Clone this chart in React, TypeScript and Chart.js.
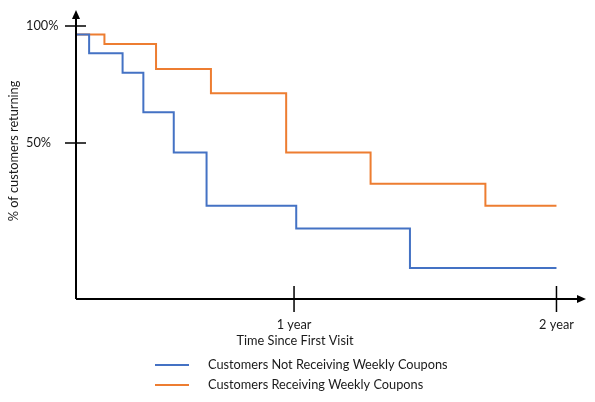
import { useEffect, useRef } from 'react';
import { Chart, registerables } from 'chart.js';
Chart.register(...registerables);

// Time in months since first visit, and % of customers returning (step values)
const blueX = [2.03, 2.63, 4.16, 5.11, 6.5, 8.0, 12.1, 17.3, 24];
const blueY = [96.3, 88.3, 80.0, 63.1, 45.9, 23.2, 13.4, -3.5, -3.5];
const orangeX = [2.03, 3.33, 5.69, 8.2, 11.64, 15.5, 20.75, 24];
const orangeY = [96.3, 92.3, 81.6, 71.2, 45.9, 32.5, 23.1, 23.1];

const seriesLabels = ['Customers Not Receiving Weekly Coupons', 'Customers Receiving Weekly Coupons'];
const yTicks = [50, 100];
const yTickLabels = ['50%', '100%'];
const xTicks = [12, 24];
const xTickLabels = ['1 year', '2 year'];
const xTitle = 'Time Since First Visit';
const yTitle = '% of customers returning';

const X_MIN = 2.03;
const X_MAX = 25.35;
const Y_MIN = -16.7;
const Y_MAX = 106.8;

const FONT = 'Lato, "Open Sans", sans-serif';
const BLUE = '#4472C4';
const ORANGE = '#ED7D31';
const TEXT = '#1a1a1a';

export default function App() {
  const ref = useRef<HTMLCanvasElement>(null);
  useEffect(() => {
    document.body.style.margin = '0';
    const decor = {
      id: 'decor',
      afterDatasetsDraw(chart: any) {
        const ctx = chart.ctx as CanvasRenderingContext2D;
        const xs = chart.scales.x;
        const ys = chart.scales.y;
        const left = xs.left, right = xs.right, top = ys.top, bottom = ys.bottom;
        ctx.save();
        ctx.strokeStyle = '#000';
        ctx.fillStyle = '#000';
        ctx.lineWidth = 2;
        // axes
        ctx.beginPath();
        ctx.moveTo(left, bottom);
        ctx.lineTo(right - 6, bottom);
        ctx.moveTo(left, bottom);
        ctx.lineTo(left, top + 6);
        ctx.stroke();
        // arrowheads
        ctx.beginPath();
        ctx.moveTo(right, bottom);
        ctx.lineTo(right - 9, bottom - 4);
        ctx.lineTo(right - 9, bottom + 4);
        ctx.closePath();
        ctx.fill();
        ctx.beginPath();
        ctx.moveTo(left, top);
        ctx.lineTo(left - 4, top + 9);
        ctx.lineTo(left + 4, top + 9);
        ctx.closePath();
        ctx.fill();
        // tick crosses
        ctx.lineWidth = 1.5;
        ctx.beginPath();
        yTicks.forEach((v) => {
          const py = ys.getPixelForValue(v);
          ctx.moveTo(left - 11, py);
          ctx.lineTo(left + 10, py);
        });
        xTicks.forEach((v) => {
          const px = xs.getPixelForValue(v);
          ctx.moveTo(px, bottom - 13);
          ctx.lineTo(px, bottom + 13);
        });
        ctx.stroke();
        // labels
        ctx.fillStyle = TEXT;
        ctx.font = `12.75px ${FONT}`;
        ctx.textBaseline = 'middle';
        ctx.textAlign = 'left';
        yTicks.forEach((v, i) => {
          ctx.fillText(yTickLabels[i], 26, ys.getPixelForValue(v));
        });
        ctx.textAlign = 'center';
        xTicks.forEach((v, i) => {
          ctx.fillText(xTickLabels[i], xs.getPixelForValue(v), bottom + 26);
        });
        ctx.fillText(xTitle, xs.getPixelForValue(12) + 1, bottom + 42);
        ctx.save();
        ctx.translate(14, 151);
        ctx.rotate(-Math.PI / 2);
        ctx.fillText(yTitle, 0, 0);
        ctx.restore();
        // legend
        const legY = [365, 385];
        chart.data.datasets.forEach((ds: any, i: number) => {
          ctx.strokeStyle = ds.borderColor;
          ctx.lineWidth = 2;
          ctx.beginPath();
          ctx.moveTo(155, legY[i]);
          ctx.lineTo(189, legY[i]);
          ctx.stroke();
          ctx.fillStyle = TEXT;
          ctx.textAlign = 'left';
          ctx.fillText(ds.label, 208, legY[i]);
        });
        ctx.restore();
      },
    };
    const chart = new Chart(ref.current as HTMLCanvasElement, {
      type: 'line',
      data: {
        datasets: [
          {
            label: seriesLabels[0],
            data: blueX.map((x, i) => ({ x, y: blueY[i] })),
            borderColor: BLUE,
            borderWidth: 2,
            pointRadius: 0,
            stepped: true,
            fill: false,
          },
          {
            label: seriesLabels[1],
            data: orangeX.map((x, i) => ({ x, y: orangeY[i] })),
            borderColor: ORANGE,
            borderWidth: 2,
            pointRadius: 0,
            stepped: true,
            fill: false,
          },
        ],
      },
      options: {
        responsive: false,
        animation: false,
        layout: { padding: { left: 76, right: 9, top: 10, bottom: 103 } },
        plugins: { legend: { display: false }, tooltip: { enabled: false } },
        scales: {
          x: { type: 'linear', min: X_MIN, max: X_MAX, display: false },
          y: { type: 'linear', min: Y_MIN, max: Y_MAX, display: false },
        },
      },
      plugins: [decor],
    });
    return () => chart.destroy();
  }, []);
  return (
    <div style={{ width: 595, height: 402 }}>
      <canvas ref={ref} width={595} height={402} style={{ display: 'block', width: 595, height: 402 }} />
    </div>
  );
}
